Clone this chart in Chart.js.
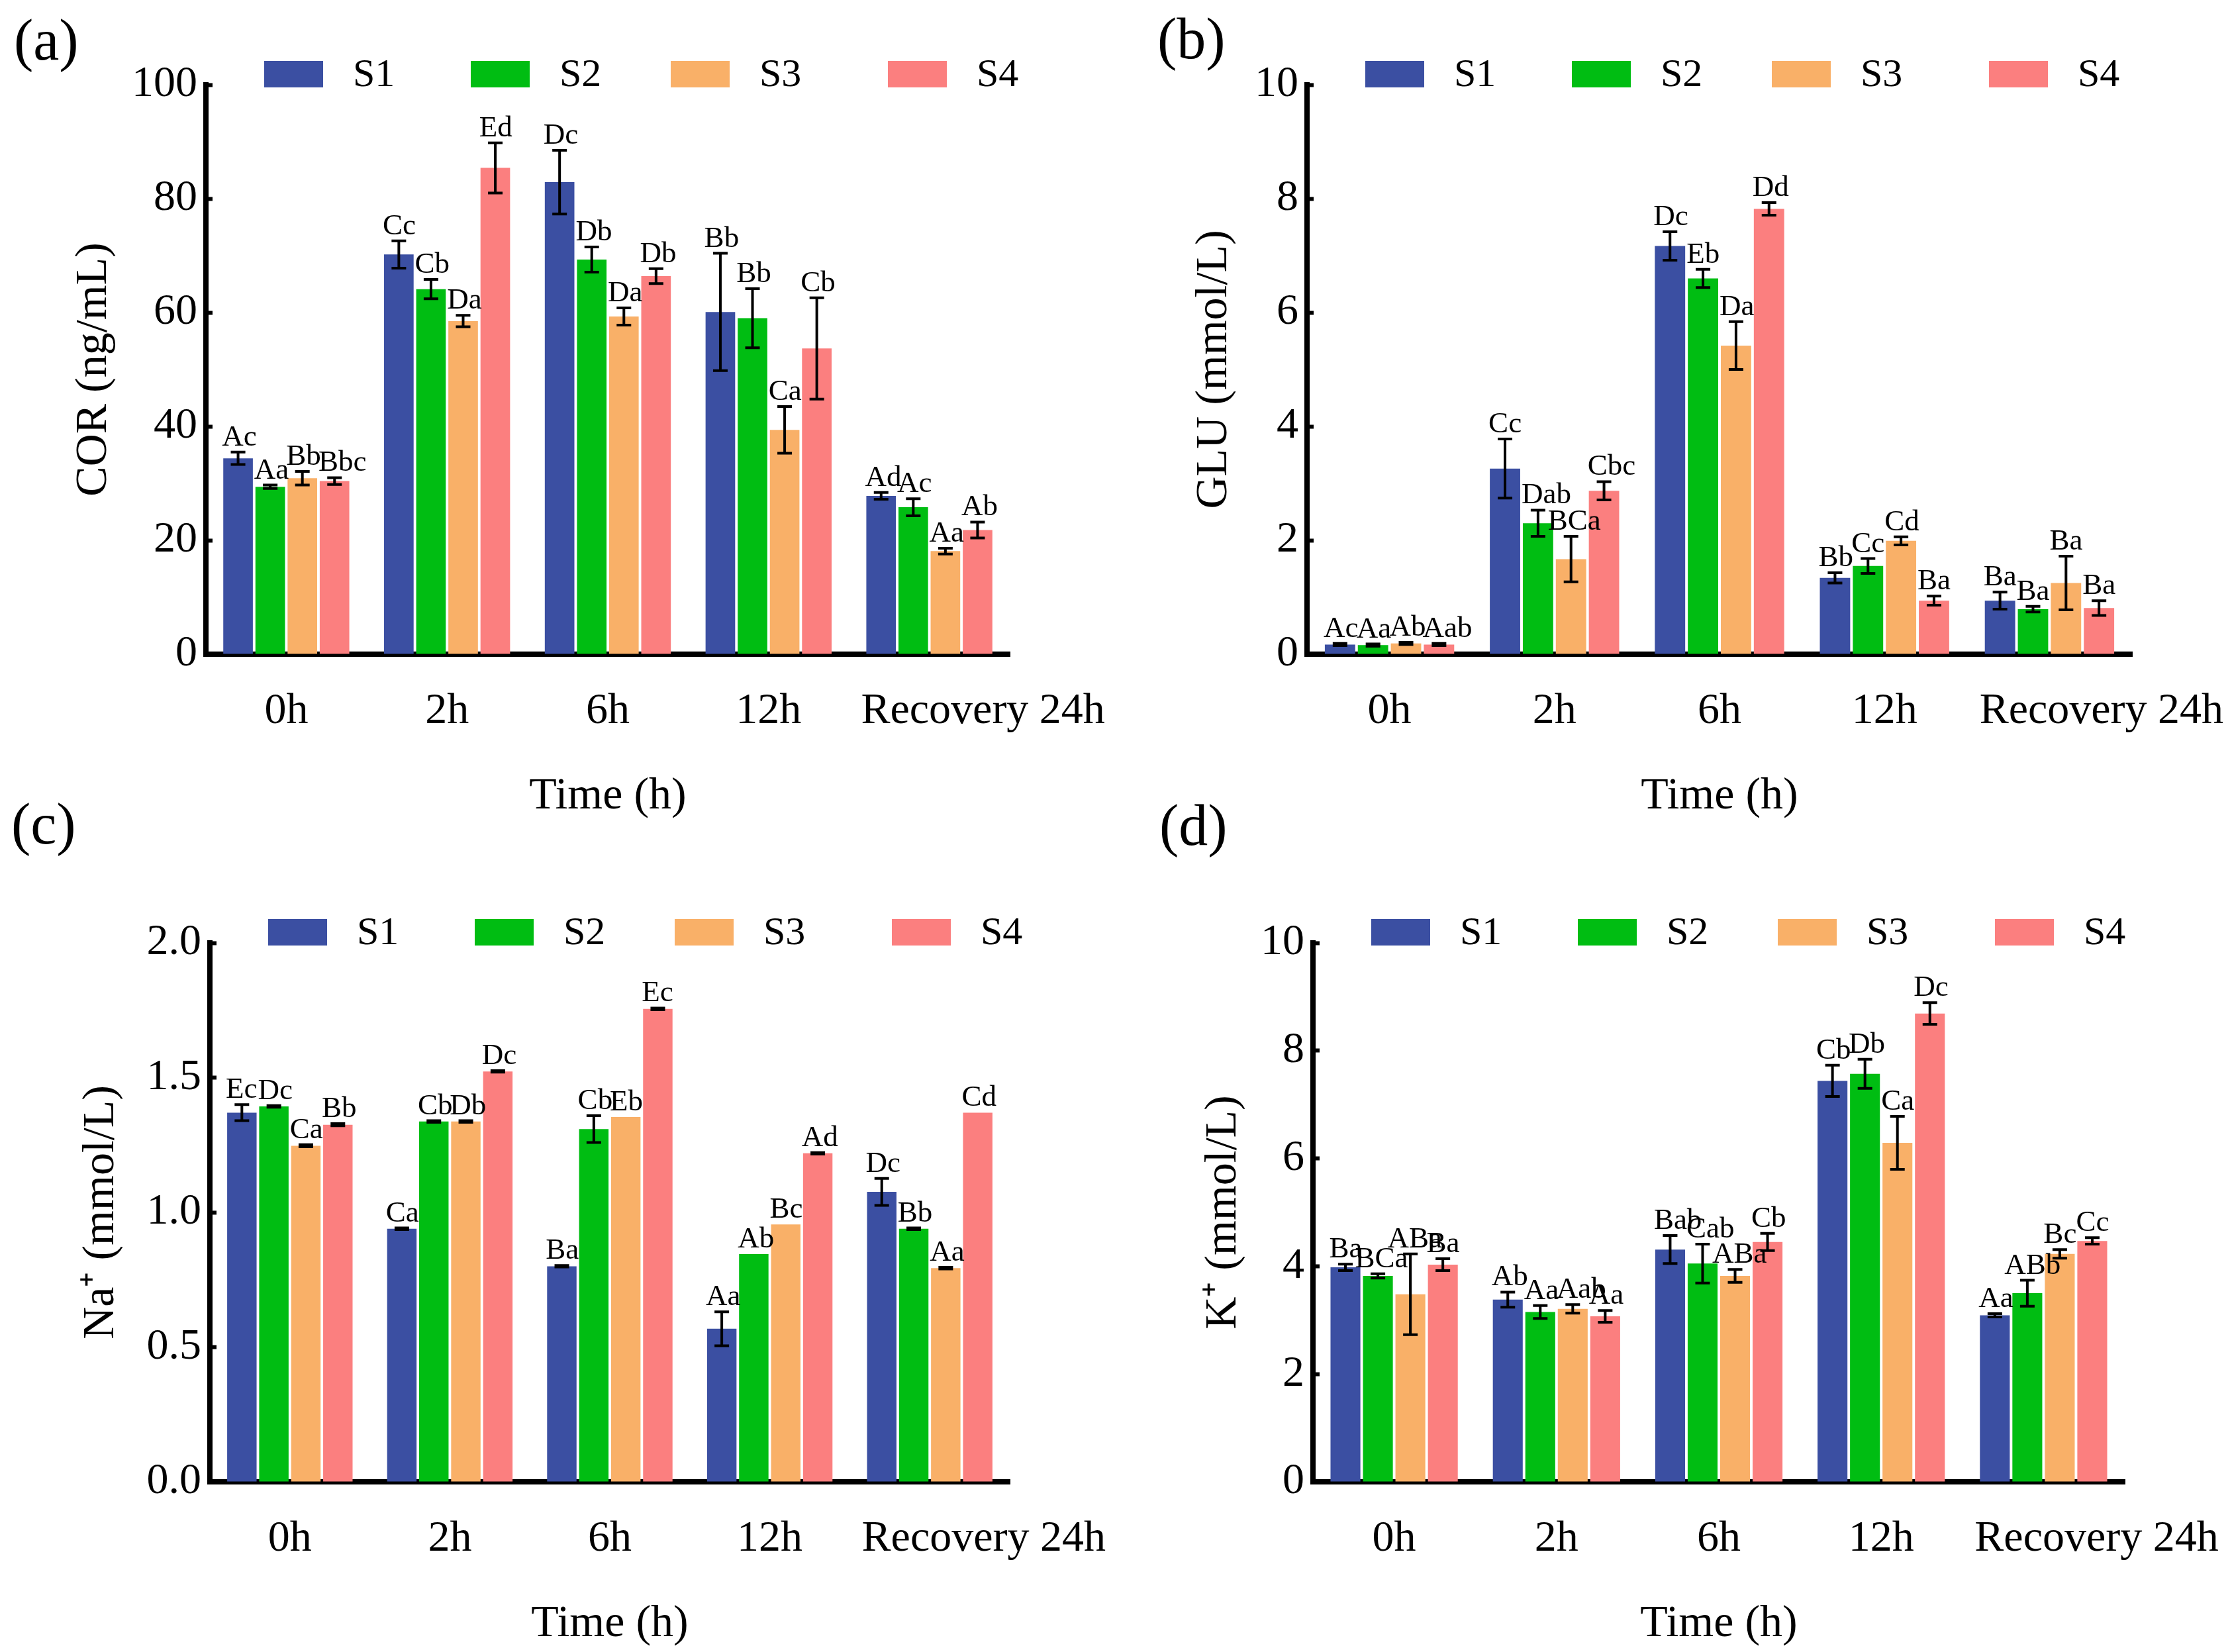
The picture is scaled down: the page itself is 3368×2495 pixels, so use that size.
<!DOCTYPE html>
<html>
<head>
<meta charset="utf-8">
<script src="https://cdn.jsdelivr.net/npm/chart.js@4.4.0/dist/chart.umd.min.js"></script>
<style>
  body { margin: 0; background: #fff; width: 3368px; height: 2495px; position: relative; overflow: hidden; font-family: 'Liberation Serif', serif; }
  canvas { position: absolute; }
  .tag { position: absolute; font-size: 88px; line-height: 88px; color: #000; }
</style>
</head>
<body>
<div class="tag" style="left:21px;top:17px">(a)</div>
<div class="tag" style="left:1748px;top:15px">(b)</div>
<div class="tag" style="left:17px;top:1201px">(c)</div>
<div class="tag" style="left:1751px;top:1203px">(d)</div>
<canvas id="chartA" width="1684" height="1247" style="left:0;top:0"></canvas>
<canvas id="chartB" width="1684" height="1247" style="left:1684px;top:0"></canvas>
<canvas id="chartC" width="1684" height="1248" style="left:0;top:1247px"></canvas>
<canvas id="chartD" width="1684" height="1248" style="left:1684px;top:1247px"></canvas>
<script>
const times = ['0h', '2h', '6h', '12h', 'Recovery 24h'];
const groups = ['S1', 'S2', 'S3', 'S4'];
const colors = ['#3b4fa2', '#00bd12', '#f9b068', '#fb7f7f'];

// (a) COR, one row per group S1..S4
const corMean = [
  [34.4, 70.2, 82.9, 60.1, 27.8],
  [29.4, 64.1, 69.3, 59.0, 25.8],
  [30.9, 58.5, 59.3, 39.4, 18.1],
  [30.4, 85.4, 66.4, 53.7, 21.8]
];
const corSd = [
  [1.1, 2.4, 5.6, 10.3, 0.6],
  [0.3, 1.7, 2.2, 5.2, 1.5],
  [1.2, 1.0, 1.5, 4.1, 0.5],
  [0.6, 4.4, 1.3, 8.9, 1.4]
];
const corSig = [
  ['Ac', 'Cc', 'Dc', 'Bb', 'Ad'],
  ['Aa', 'Cb', 'Db', 'Bb', 'Ac'],
  ['Bb', 'Da', 'Da', 'Ca', 'Aa'],
  ['Bbc', 'Ed', 'Db', 'Cb', 'Ab']
];
const corTicks = [0, 20, 40, 60, 80, 100];

// (b) GLU
const gluMean = [
  [0.17, 3.26, 7.17, 1.34, 0.94],
  [0.16, 2.30, 6.60, 1.55, 0.79],
  [0.19, 1.67, 5.42, 1.99, 1.25],
  [0.17, 2.87, 7.82, 0.94, 0.81]
];
const gluSd = [
  [0.02, 0.52, 0.25, 0.09, 0.15],
  [0.02, 0.23, 0.16, 0.13, 0.05],
  [0.02, 0.40, 0.42, 0.07, 0.47],
  [0.02, 0.16, 0.11, 0.08, 0.13]
];
const gluSig = [
  ['Ac', 'Cc', 'Dc', 'Bb', 'Ba'],
  ['Aa', 'Dab', 'Eb', 'Cc', 'Ba'],
  ['Ab', 'BCa', 'Da', 'Cd', 'Ba'],
  ['Aab', 'Cbc', 'Dd', 'Ba', 'Ba']
];
const gluTicks = [0, 2, 4, 6, 8, 10];

// (c) Na+
const naMean = [
  [1.370, 0.939, 0.800, 0.568, 1.076],
  [1.393, 1.337, 1.309, 0.845, 0.939],
  [1.247, 1.337, 1.354, 0.955, 0.793],
  [1.325, 1.523, 1.755, 1.219, 1.370]
];
const naSd = [
  [0.030, 0.003, 0.003, 0.063, 0.050],
  [0.003, 0.003, 0.050, 0, 0.003],
  [0.004, 0.003, 0, 0, 0.003],
  [0.004, 0.003, 0.003, 0.003, 0]
];
const naSig = [
  ['Ec', 'Ca', 'Ba', 'Aa', 'Dc'],
  ['Dc', 'Cb', 'Cb', 'Ab', 'Bb'],
  ['Ca', 'Db', 'Eb', 'Bc', 'Aa'],
  ['Bb', 'Dc', 'Ec', 'Ad', 'Cd']
];
const naTicks = [0, 0.5, 1.0, 1.5, 2.0];

// (d) K+
const kMean = [
  [3.98, 3.38, 4.31, 7.44, 3.09],
  [3.82, 3.15, 4.05, 7.57, 3.50],
  [3.48, 3.21, 3.82, 6.29, 4.23],
  [4.03, 3.07, 4.45, 8.69, 4.47]
];
const kSd = [
  [0.06, 0.14, 0.26, 0.29, 0.03],
  [0.04, 0.12, 0.36, 0.27, 0.24],
  [0.75, 0.08, 0.12, 0.49, 0.08],
  [0.11, 0.11, 0.16, 0.20, 0.06]
];
const kSig = [
  ['Ba', 'Ab', 'Bab', 'Cb', 'Aa'],
  ['BCa', 'Aa', 'Cab', 'Db', 'ABb'],
  ['ABa', 'Aab', 'ABa', 'Ca', 'Bc'],
  ['Ba', 'Aa', 'Cb', 'Dc', 'Cc']
];
const kTicks = [0, 2, 4, 6, 8, 10];

Chart.defaults.font.family = "'Liberation Serif', 'Times New Roman', serif";
Chart.defaults.color = '#000';

const FONT = "'Liberation Serif', 'Times New Roman', serif";
const X_HEIGHT = 256;

// error bars + significance letters (letters start at the bar's left edge)
const errorBars = {
  id: 'errorBars',
  afterDatasetsDraw(chart) {
    const ctx = chart.ctx;
    const y = chart.scales.y;
    ctx.save();
    ctx.strokeStyle = '#000';
    ctx.lineWidth = 4;
    ctx.fillStyle = '#000';
    ctx.font = '45px ' + FONT;
    ctx.textAlign = 'left';
    ctx.textBaseline = 'alphabetic';
    chart.data.datasets.forEach((ds, i) => {
      const meta = chart.getDatasetMeta(i);
      meta.data.forEach((bar, j) => {
        const v = ds.data[j];
        const e = ds.sd[j];
        let top = y.getPixelForValue(v);
        if (e > 0) {
          top = y.getPixelForValue(v + e);
          const bot = y.getPixelForValue(v - e);
          const half = 11;
          ctx.beginPath();
          ctx.moveTo(bar.x, top); ctx.lineTo(bar.x, bot);
          ctx.moveTo(bar.x - half, top); ctx.lineTo(bar.x + half, top);
          ctx.moveTo(bar.x - half, bot); ctx.lineTo(bar.x + half, bot);
          ctx.stroke();
        }
        const txt = ds.sig[j];
        const shift = /^[A-Z]{2}/.test(txt) ? 12 : 2;
        ctx.fillText(txt, bar.x - bar.width / 2 - shift, top - 10);
      });
    });
    ctx.restore();
  }
};

// legend row above the plot, offsets measured from the y axis
const legendRow = {
  id: 'legendRow',
  afterDraw(chart) {
    const ctx = chart.ctx;
    const area = chart.chartArea;
    const offsets = [88, 400, 702, 1030];
    const cy = area.top - 16;
    ctx.save();
    ctx.font = '60px ' + FONT;
    ctx.textBaseline = 'middle';
    ctx.textAlign = 'left';
    chart.data.datasets.forEach((ds, i) => {
      const x = area.left + offsets[i];
      ctx.fillStyle = ds.backgroundColor;
      ctx.fillRect(x, cy - 20, 89, 40);
      ctx.fillStyle = '#000';
      ctx.fillText(ds.label, x + 89 + 45, cy + 2);
    });
    ctx.restore();
  }
};

// category labels; the last one starts at its bar group instead of being centred
const timeLabels = {
  id: 'timeLabels',
  afterDraw(chart) {
    const ctx = chart.ctx;
    const x = chart.scales.x;
    const area = chart.chartArea;
    const step = x.getPixelForValue(1) - x.getPixelForValue(0);
    ctx.save();
    ctx.font = '66px ' + FONT;
    ctx.fillStyle = '#000';
    ctx.textBaseline = 'middle';
    chart.data.labels.forEach((lab, j) => {
      const cx = x.getPixelForValue(j);
      const last = j === chart.data.labels.length - 1;
      ctx.textAlign = last ? 'left' : 'center';
      ctx.fillText(lab, last ? cx - step * 0.4 - 6 : cx, area.bottom + 87);
    });
    ctx.restore();
  }
};

function makePanel(id, area, titleX, yTitle, mean, sd, sig, ticks, digits) {
  const canvas = document.getElementById(id);
  const w = canvas.width, h = canvas.height;
  return new Chart(canvas, {
    type: 'bar',
    data: {
      labels: times,
      datasets: groups.map((g, i) => ({
        label: g,
        data: mean[i],
        sd: sd[i],
        sig: sig[i],
        backgroundColor: colors[i],
        borderWidth: 0,
        categoryPercentage: 0.8,
        barPercentage: 0.92
      }))
    },
    options: {
      responsive: false,
      animation: false,
      devicePixelRatio: 1,
      layout: {
        padding: { left: 0, top: area.t, right: w - area.r, bottom: h - area.b - X_HEIGHT }
      },
      plugins: { legend: { display: false }, tooltip: { enabled: false } },
      scales: {
        x: {
          afterFit(s) { s.height = X_HEIGHT; },
          grid: { display: false, drawTicks: false },
          border: { display: true, color: '#000', width: 8 },
          ticks: { display: false },
          title: { display: true, text: 'Time (h)', font: { size: 68 }, padding: { top: 0, bottom: 0 } }
        },
        y: {
          min: ticks[0],
          max: ticks[ticks.length - 1],
          afterFit(s) { s.width = area.l; },
          afterBuildTicks(s) { s.ticks = ticks.map(v => ({ value: v })); },
          grid: { display: true, drawOnChartArea: false, drawTicks: true, tickLength: -10, tickWidth: 6, tickColor: '#000' },
          border: { display: true, color: '#000', width: 8 },
          ticks: { font: { size: 66 }, padding: 23, callback: v => v.toFixed(digits) },
          title: { display: true, text: yTitle, font: { size: 68 }, padding: { top: titleX - 41, bottom: 0 } }
        }
      }
    },
    plugins: [errorBars, legendRow, timeLabels]
  });
}

makePanel('chartA', { l: 311, r: 1525, t: 128, b: 988 }, 142, 'COR (ng/mL)', corMean, corSd, corSig, corTicks, 0);
makePanel('chartB', { l: 290, r: 1536, t: 128, b: 988 }, 150, 'GLU (mmol/L)', gluMean, gluSd, gluSig, gluTicks, 0);
makePanel('chartC', { l: 317, r: 1525, t: 177, b: 991 }, 153, 'Na\u207A (mmol/L)', naMean, naSd, naSig, naTicks, 1);
makePanel('chartD', { l: 299, r: 1525, t: 177, b: 991 }, 164, 'K\u207A (mmol/L)', kMean, kSd, kSig, kTicks, 0);
</script>
</body>
</html>
